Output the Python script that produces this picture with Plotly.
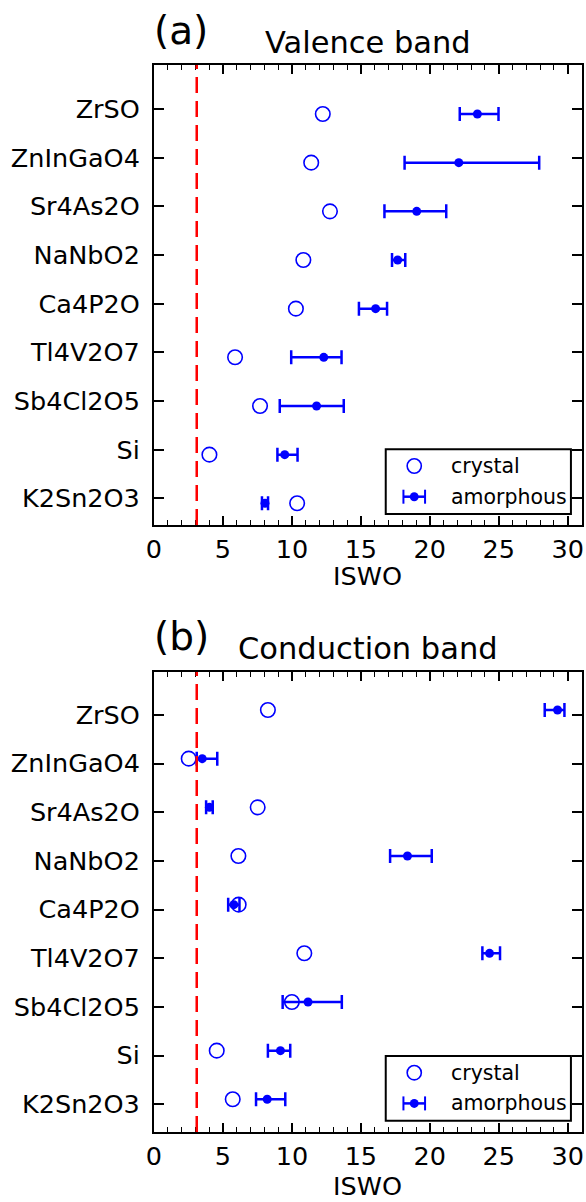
import plotly.graph_objects as go

# Materials, listed from the bottom row to the top row of each panel
materials = ["K2Sn2O3", "Si", "Sb4Cl2O5", "Tl4V2O7", "Ca4P2O",
             "NaNbO2", "Sr4As2O", "ZnInGaO4", "ZrSO"]

# (a) Valence band ISWO
vb_crystal = [10.38, 4.02, 7.69, 5.88, 10.29, 10.83, 12.76, 11.4, 12.24]
vb_amorph = [8.05, 9.48, 11.79, 12.31, 16.07, 17.67, 19.05, 22.1, 23.45]
vb_err_minus = [0.22, 0.53, 2.67, 2.36, 1.21, 0.41, 2.34, 3.93, 1.28]
vb_err_plus = [0.22, 0.93, 1.97, 1.29, 0.83, 0.55, 2.14, 5.83, 1.53]

# (b) Conduction band ISWO
cb_crystal = [5.71, 4.55, 10.0, 10.9, 6.14, 6.12, 7.52, 2.52, 8.26]
cb_amorph = [8.21, 9.17, 11.17, 24.33, 5.79, 18.38, 4.02, 3.5, 29.26]
cb_err_minus = [0.81, 0.91, 1.84, 0.52, 0.41, 1.26, 0.24, 0.4, 0.93]
cb_err_plus = [1.31, 0.71, 2.45, 0.76, 0.41, 1.76, 0.24, 1.09, 0.5]

threshold = 3.1
x_ticks = [0, 5, 10, 15, 20, 25, 30]
legend_labels = ["crystal", "amorphous"]

W, H = 586, 1202
FONT = "DejaVu Sans"
BLUE = "#0000ff"
TICK_SIZE = 25.5

rows = list(range(len(materials)))


def px_x(p):
    return p / W


def px_y(p):
    return 1 - p / H


fig = go.Figure()

panels = [
    dict(xa="x", ya="y", crystal=vb_crystal, amorph=vb_amorph,
         em=vb_err_minus, ep=vb_err_plus),
    dict(xa="x2", ya="y2", crystal=cb_crystal, amorph=cb_amorph,
         em=cb_err_minus, ep=cb_err_plus),
]

for p in panels:
    fig.add_trace(go.Scatter(
        x=p["crystal"], y=rows, mode="markers", name=legend_labels[0],
        xaxis=p["xa"], yaxis=p["ya"],
        marker=dict(symbol="circle-open", size=14.5, color=BLUE,
                    line=dict(width=1.6, color=BLUE)),
    ))
    fig.add_trace(go.Scatter(
        x=p["amorph"], y=rows, mode="markers", name=legend_labels[1],
        xaxis=p["xa"], yaxis=p["ya"],
        marker=dict(symbol="circle", size=9, color=BLUE),
        error_x=dict(type="data", symmetric=False, array=p["ep"],
                     arrayminus=p["em"], color=BLUE, thickness=2.5, width=7),
    ))

axis_common = dict(
    showline=True, linewidth=2, linecolor="black", mirror="ticks",
    ticks="inside", tickcolor="black", tickwidth=1.5,
    showgrid=False, zeroline=False,
    tickfont=dict(family=FONT, size=TICK_SIZE, color="black"),
)

x_dom = [px_x(148.5), px_x(583.5)]
xaxis_common = dict(axis_common, range=[0, 31], tickvals=x_ticks, ticklen=9,
                    domain=x_dom,
                    minor=dict(dtick=1, ticks="inside", ticklen=5,
                               tickcolor="black", tickwidth=1.2))

fig.update_layout(
    width=W, height=H,
    margin=dict(l=0, r=0, t=0, b=0),
    paper_bgcolor="white", plot_bgcolor="white",
    font=dict(family=FONT, color="black"),
    showlegend=False,
    xaxis=dict(xaxis_common, anchor="y"),
    yaxis=dict(axis_common, domain=[px_y(525), px_y(65)], range=[-0.446, 9.007],
               tickvals=[r + 0.1 for r in rows], ticktext=materials,
               ticklen=10, anchor="x", ticklabelstandoff=7),
    xaxis2=dict(xaxis_common, anchor="y2"),
    yaxis2=dict(axis_common, domain=[px_y(1132), px_y(672)], range=[-0.672, 8.781],
                tickvals=[r - 0.1 for r in rows], ticktext=materials,
                ticklen=10, anchor="x2", ticklabelstandoff=7),
)

shapes = []
# Reference threshold line in both panels
for xa, ya in [("x", "y"), ("x2", "y2")]:
    shapes.append(dict(type="line", xref=xa, yref=f"{ya} domain",
                       x0=threshold, x1=threshold, y0=0, y1=1, layer="above",
                       line=dict(color="red", width=2.5, dash="16px,8px")))

ann = []
for label, title, cy_lab, cy_title, cy_axis, leg_top in [
    ("(a)", "Valence band", 31, 43, 576, 449.3),
    ("(b)", "Conduction band", 636, 648, 1186, 1056),
]:
    ann.append(dict(text=label, x=px_x(146), y=px_y(cy_lab), xref="paper", yref="paper",
                    xanchor="left", yanchor="middle", showarrow=False,
                    font=dict(family=FONT, size=39, color="black")))
    ann.append(dict(text=title, x=px_x(366), y=px_y(cy_title), xref="paper", yref="paper",
                    xanchor="center", yanchor="middle", showarrow=False,
                    font=dict(family=FONT, size=30.5, color="black")))
    ann.append(dict(text="ISWO", x=px_x(366), y=px_y(cy_axis), xref="paper", yref="paper",
                    xanchor="center", yanchor="middle", showarrow=False,
                    font=dict(family=FONT, size=TICK_SIZE, color="black")))

    # Legend box with its two keys
    shapes.append(dict(type="rect", xref="paper", yref="paper", layer="above",
                       x0=px_x(384.3), x1=px_x(572.7),
                       y0=px_y(leg_top + 64.7), y1=px_y(leg_top),
                       line=dict(color="black", width=2), fillcolor="white"))
    r1 = leg_top + 16.7
    r2 = leg_top + 47.4
    sx = 413.3
    shapes.append(dict(type="circle", xref="paper", yref="paper", layer="above",
                       x0=px_x(sx - 7.2), x1=px_x(sx + 7.2),
                       y0=px_y(r1 + 7.2), y1=px_y(r1 - 7.2),
                       line=dict(color=BLUE, width=1.6)))
    shapes.append(dict(type="line", xref="paper", yref="paper", layer="above",
                       x0=px_x(sx - 11), x1=px_x(sx + 11), y0=px_y(r2), y1=px_y(r2),
                       line=dict(color=BLUE, width=2.5)))
    for cx in (sx - 11, sx + 11):
        shapes.append(dict(type="line", xref="paper", yref="paper", layer="above",
                           x0=px_x(cx), x1=px_x(cx), y0=px_y(r2 - 7), y1=px_y(r2 + 7),
                           line=dict(color=BLUE, width=2)))
    shapes.append(dict(type="circle", xref="paper", yref="paper", layer="above",
                       x0=px_x(sx - 4.5), x1=px_x(sx + 4.5),
                       y0=px_y(r2 + 4.5), y1=px_y(r2 - 4.5),
                       line=dict(color=BLUE, width=0), fillcolor=BLUE))
    for txt, ry in zip(legend_labels, (r1, r2)):
        ann.append(dict(text=txt, x=px_x(449), y=px_y(ry), xref="paper", yref="paper",
                        xanchor="left", yanchor="middle", showarrow=False,
                        font=dict(family=FONT, size=20.5, color="black")))

fig.update_layout(shapes=shapes, annotations=ann)

fig.write_html("out.html")
